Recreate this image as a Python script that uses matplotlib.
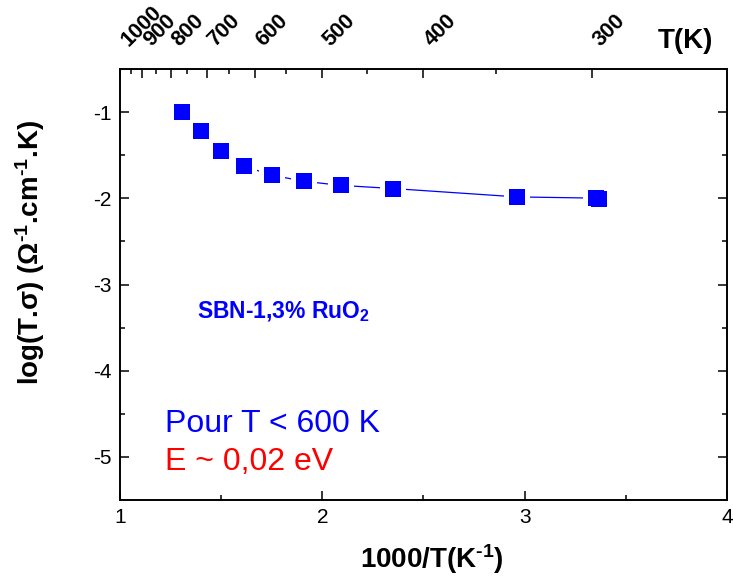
import matplotlib
matplotlib.use("Agg")
import matplotlib.pyplot as plt
import matplotlib.transforms as mtransforms
import numpy as np

plt.rcParams['font.family'] = ['Liberation Sans', 'DejaVu Sans']
plt.rcParams['mathtext.fontset'] = 'custom'
plt.rcParams['mathtext.rm'] = 'Liberation Sans:bold'
plt.rcParams['mathtext.bf'] = 'Liberation Sans:bold'
plt.rcParams['mathtext.it'] = 'Liberation Sans:bold'

# Data
inv_T = [1.308, 1.398, 1.497, 1.614, 1.753, 1.911, 2.091, 2.351, 2.964, 3.352, 3.368]
log_Tsigma = [-1.00, -1.214, -1.456, -1.629, -1.733, -1.803, -1.850, -1.887, -1.984, -1.998, -2.008]

x_ticks = [1, 2, 3, 4]
y_ticks = [-1, -2, -3, -4, -5]
top_T_major = [1000, 900, 800, 700, 600, 500, 400, 300]
top_T_minor = [950, 850, 750, 650, 550, 450, 350]

fig = plt.figure(figsize=(7.33, 5.79), dpi=100)
L, R, T, B = 120, 727, 69, 500
W, H = 733, 579
ax = fig.add_axes([L / W, 1 - B / H, (R - L) / W, (B - T) / H])

blue = '#0000FF'
ax.plot(inv_T, log_Tsigma, '-', color=blue, lw=0.9, zorder=2)
ax.plot(inv_T, log_Tsigma, 's', color='white', ms=19, mew=0, zorder=3)
ax.plot(inv_T, log_Tsigma, 's', color=blue, ms=12, mew=0, zorder=4)

ax.set_xlim(1, 4)
ax.set_ylim(-5.5, -0.5)
ax.set_xticks(x_ticks)
ax.set_xticks([1.5, 2.5, 3.5], minor=True)
ax.set_yticks(y_ticks)
ax.set_yticks([-1.5, -2.5, -3.5, -4.5], minor=True)
ax.set_xticklabels([str(v) for v in x_ticks])
ax.set_yticklabels([str(v) for v in y_ticks])

for s in ax.spines.values():
    s.set_linewidth(1.2)

ax.tick_params(which='both', direction='in', top=False, right=True, width=1.1,
               labelsize=15, pad=6)
ax.tick_params(which='major', length=6.5)
ax.tick_params(which='minor', length=3.6)

# Top axis in temperature
ax2 = ax.twiny()
ax2.set_xlim(ax.get_xlim())
ax2.set_xticks([1000.0 / t for t in top_T_major])
ax2.set_xticklabels([str(t) for t in top_T_major], fontsize=15.5, fontweight='bold',
                    rotation=45, rotation_mode='anchor', ha='left', va='baseline')
ax2.set_xticks([1000.0 / t for t in top_T_minor], minor=True)
ax2.tick_params(which='both', direction='in', width=1.1, pad=16)
ax2.tick_params(which='major', length=6.5)
ax2.tick_params(which='minor', length=3.6)
for s in ax2.spines.values():
    s.set_linewidth(1.2)
shift = mtransforms.ScaledTranslation(6 / 72, 0, fig.dpi_scale_trans)
for tick in ax2.xaxis.get_major_ticks():
    tick.label2.set_transform(tick.label2.get_transform() + shift)

ax.text(0.977, 1.0487, 'T(K)', transform=ax.transAxes, ha='right', va='baseline',
        fontsize=20, fontweight='bold')

sup = r'$^{\text{-1}}$'
ax.text(0.514, -0.158, '1000/T(K' + sup + ')', transform=ax.transAxes,
        ha='center', va='baseline', fontsize=20, fontweight='bold')
ax.text(-0.148, 0.575, 'log(T.σ) (Ω' + sup + '.cm' + sup + '.K)',
        transform=ax.transAxes, rotation=90, ha='center', va='center',
        fontsize=20, fontweight='bold')

ax.text(0.127, 0.422, r'SBN-1,3% RuO$_{\text{2}}$', transform=ax.transAxes,
        ha='left', va='baseline', fontsize=16.5, fontweight='bold', color=blue)
ax.text(0.074, 0.158, 'Pour T < 600 K', transform=ax.transAxes,
        ha='left', va='baseline', fontsize=23, color=blue)
ax.text(0.074, 0.0696, 'E ~ 0,02 eV', transform=ax.transAxes,
        ha='left', va='baseline', fontsize=23, color='#FF0000')

fig.savefig('out.png', dpi=100)
